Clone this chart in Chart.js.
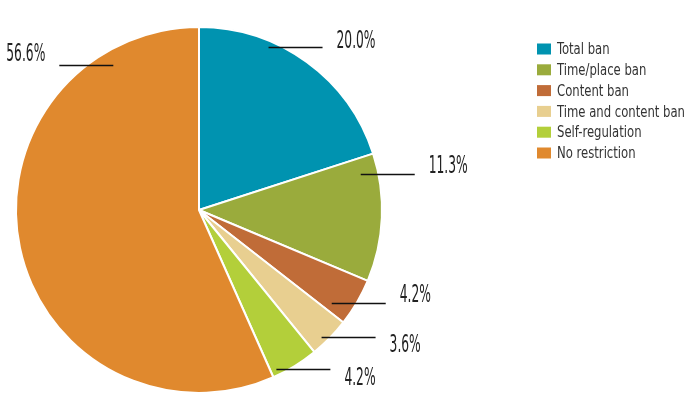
<!DOCTYPE html>
<html>
<head>
<meta charset="utf-8">
<script src="https://cdn.jsdelivr.net/npm/chart.js@4/dist/chart.umd.min.js"></script>
<style>
  html, body { margin: 0; padding: 0; background: #fff; }
  #wrap { width: 695px; height: 419px; position: relative; }
</style>
</head>
<body>
<div id="wrap"><canvas id="pie"></canvas></div>
<script>
// ----- Data -----
const categories = [
  "Total ban",
  "Time/place ban",
  "Content ban",
  "Time and content ban",
  "Self-regulation",
  "No restriction",
];
const shares = [20.0, 11.3, 4.2, 3.6, 4.2, 56.6];
const shareLabels = ["20.0%", "11.3%", "4.2%", "3.6%", "4.2%", "56.6%"];

const colors = ["#0093b0", "#9aab3c", "#c06c38", "#e8cf90", "#b3cf3a", "#e0892e"];

// where each leader line sits inside its slice (fraction of the slice angle,
// fraction of the radius), which way it runs and how far the label is shifted
const leaders = [
  { t: 0.32, r: 0.97, dir: 1, dy: -6 },
  { t: 0.135, r: 0.905, dir: 1, dy: -8 },
  { t: 0.81, r: 0.886, dir: 1, dy: -8 },
  { t: 0.63, r: 0.966, dir: 1, dy: 8 },
  { t: 0.87, r: 0.967, dir: 1, dy: 9 },
  { t: 0.85, r: 0.92, dir: -1, dy: -11 },
];

const LABEL_FONT = "24px 'Liberation Sans Narrow', 'DejaVu Sans Condensed', 'Liberation Sans', sans-serif";
const LEGEND_FONT = "16px 'Liberation Sans Narrow', 'DejaVu Sans Condensed', 'Liberation Sans', sans-serif";

/**
 * Horizontal squeeze so a sample string ends up at the wanted width.
 */
function squeezeFor(ctx, font, sample, wanted) {
  ctx.save();
  ctx.font = font;
  const w = ctx.measureText(sample).width;
  ctx.restore();
  return Math.min(1, wanted / w);
}

/**
 * Draws the horizontal leader lines and the percentage labels.
 */
const leaderPlugin = {
  id: "leaders",
  afterDatasetsDraw(chart) {
    const ctx = chart.ctx;
    const arcs = chart.getDatasetMeta(0).data;
    const sx = squeezeFor(ctx, LABEL_FONT, "20.0%", 39);
    ctx.save();
    arcs.forEach((arc, i) => {
      const cfg = leaders[i];
      const a = arc.startAngle + (arc.endAngle - arc.startAngle) * cfg.t;
      const x0 = arc.x + Math.cos(a) * arc.outerRadius * cfg.r;
      const y0 = Math.round(arc.y + Math.sin(a) * arc.outerRadius * cfg.r) + 0.5;
      const x1 = x0 + cfg.dir * 54;

      ctx.strokeStyle = "#111";
      ctx.lineWidth = 1.3;
      ctx.beginPath();
      ctx.moveTo(x0, y0);
      ctx.lineTo(x1, y0);
      ctx.stroke();

      // condensed look: squeeze the text horizontally
      ctx.save();
      ctx.font = LABEL_FONT;
      ctx.fillStyle = "#222";
      ctx.textBaseline = "middle";
      ctx.textAlign = cfg.dir > 0 ? "left" : "right";
      ctx.translate(x1 + cfg.dir * 14, y0 + cfg.dy);
      ctx.scale(sx, 1);
      ctx.fillText(shareLabels[i], 0, 0);
      ctx.restore();
    });
    ctx.restore();
  },
};

/**
 * Draws the legend block at the top right.
 */
const legendPlugin = {
  id: "sideLegend",
  afterDraw(chart) {
    const ctx = chart.ctx;
    const sx = squeezeFor(ctx, LEGEND_FONT, "Time and content ban", 128);
    ctx.save();
    ctx.font = LEGEND_FONT;
    ctx.textBaseline = "middle";
    categories.forEach((name, i) => {
      const y = 49 + i * 20.8;
      ctx.fillStyle = colors[i];
      ctx.fillRect(537, y - 5.5, 14, 11);
      ctx.save();
      ctx.fillStyle = "#333";
      ctx.translate(557, y + 1);
      ctx.scale(sx, 1);
      ctx.fillText(name, 0, 0);
      ctx.restore();
    });
    ctx.restore();
  },
};

document.addEventListener("DOMContentLoaded", () => {
  const ctx = document.getElementById("pie").getContext("2d");
  new Chart(ctx, {
    type: "pie",
    data: {
      labels: categories,
      datasets: [{
        data: shares,
        backgroundColor: colors,
        borderColor: "#ffffff",
        borderWidth: 2,
      }],
    },
    options: {
      responsive: true,
      maintainAspectRatio: false,
      animation: false,
      layout: { padding: { left: 15, top: 26, right: 312, bottom: 25 } },
      plugins: {
        legend: { display: false },
        tooltip: { enabled: false },
      },
    },
    plugins: [leaderPlugin, legendPlugin],
  });
});
</script>
</body>
</html>
